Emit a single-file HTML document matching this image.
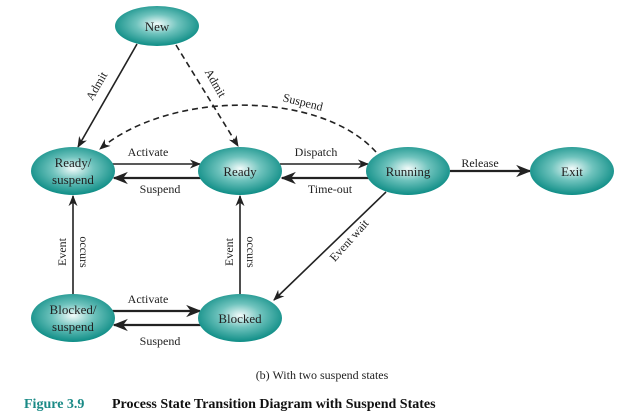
<!DOCTYPE html>
<html><head><style>
body{margin:0;background:#fff;width:617px;height:419px;overflow:hidden}
svg{display:block}
text{font-family:"Liberation Serif",serif;fill:#222}
</style></head><body>
<svg width="617" height="419" viewBox="0 0 617 419">
<defs>
<radialGradient id="g" cx="50%" cy="45%" r="55%">
<stop offset="0" stop-color="#f2fbfa"/><stop offset="0.45" stop-color="#6fc3bd"/><stop offset="1" stop-color="#0e8d86"/>
</radialGradient>
<marker id="a" viewBox="0 0 10 10" refX="9" refY="5" markerWidth="7" markerHeight="7" orient="auto"><path d="M0,1 L10,5 L0,9 L3,5z" fill="#222"/></marker>
</defs>
<g stroke="#222" stroke-width="1.6" fill="none" marker-end="url(#a)">
<line x1="137" y1="44" x2="78" y2="147"/>
<line x1="176" y1="45" x2="238" y2="146" stroke-dasharray="6,4"/>
<path d="M376,152 C320,90 170,90 100,149" stroke-dasharray="6,4"/>
<line x1="112" y1="164" x2="200" y2="164"/>
<line x1="202" y1="178" x2="114" y2="178" stroke-width="2.2"/>
<line x1="280" y1="164" x2="368" y2="164"/>
<line x1="370" y1="178" x2="282" y2="178" stroke-width="2.2"/>
<line x1="450" y1="171" x2="530" y2="171" stroke-width="2.2"/>
<line x1="73" y1="296" x2="73" y2="196"/>
<line x1="240" y1="296" x2="240" y2="196"/>
<line x1="386" y1="192" x2="274" y2="300"/>
<line x1="112" y1="311" x2="200" y2="311" stroke-width="2.2"/>
<line x1="202" y1="325" x2="114" y2="325" stroke-width="2.2"/>
</g>
<g fill="url(#g)">
<ellipse cx="157" cy="26" rx="42" ry="20"/>
<ellipse cx="73" cy="171" rx="42" ry="24"/>
<ellipse cx="240" cy="171" rx="42" ry="24"/>
<ellipse cx="408" cy="171" rx="42" ry="24"/>
<ellipse cx="572" cy="171" rx="42" ry="24"/>
<ellipse cx="73" cy="318" rx="42" ry="24"/>
<ellipse cx="240" cy="318" rx="42" ry="24"/>
</g>
<g font-size="13" text-anchor="middle">
<text x="157" y="31">New</text>
<text x="73" y="167">Ready/</text><text x="73" y="184">suspend</text>
<text x="240" y="176">Ready</text>
<text x="408" y="176">Running</text>
<text x="572" y="176">Exit</text>
<text x="73" y="314">Blocked/</text><text x="73" y="331">suspend</text>
<text x="240" y="323">Blocked</text>
</g>
<g font-size="12" text-anchor="middle">
<text x="148" y="156">Activate</text>
<text x="160" y="193">Suspend</text>
<text x="316" y="156">Dispatch</text>
<text x="330" y="193">Time-out</text>
<text x="480" y="167">Release</text>
<text x="148" y="303">Activate</text>
<text x="160" y="345">Suspend</text>
<text transform="translate(100,88) rotate(-60)">Admit</text>
<text transform="translate(212,85) rotate(60)">Admit</text>
<text transform="translate(302,106) rotate(14)">Suspend</text>
<text transform="translate(66,252) rotate(-90)">Event</text>
<text transform="translate(80,252) rotate(90)">occurs</text>
<text transform="translate(233,252) rotate(-90)">Event</text>
<text transform="translate(247,252) rotate(90)">occurs</text>
<text transform="translate(352,243) rotate(-48)">Event wait</text>
<text x="322" y="379">(b) With two suspend states</text>
</g>
<text x="24" y="408" font-size="14" font-weight="bold" style="fill:#1a8a86">Figure 3.9</text>
<text x="112" y="408" font-size="14" font-weight="bold" style="fill:#111">Process State Transition Diagram with Suspend States</text>
</svg>
</body></html>
